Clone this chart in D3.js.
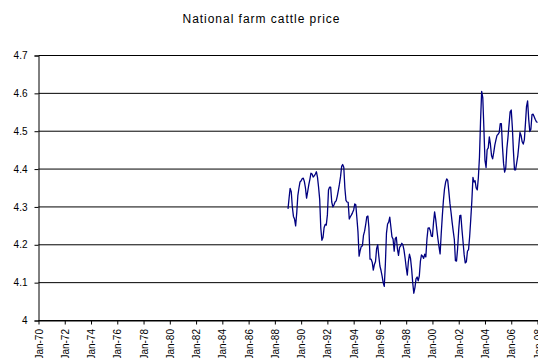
<!DOCTYPE html>
<html>
<head>
<meta charset="utf-8">
<script src="https://cdnjs.cloudflare.com/ajax/libs/d3/7.8.5/d3.min.js"></script>
<style>
  html, body { margin: 0; padding: 0; background: #fff; }
  svg { display: block; }
  text { font-family: "Liberation Sans", Arial, sans-serif; fill: #000; }
</style>
</head>
<body>
<svg id="chart" width="538" height="358"></svg>
<script>
// ---- data ----
const title = "National farm cattle price";
const startMonth = "1989-01";           // first monthly observation
const prices = [
  4.295, 4.325, 4.349, 4.340, 4.300, 4.275, 4.268, 4.250, 4.285, 4.330,
  4.350, 4.366, 4.369, 4.375, 4.376, 4.367, 4.350, 4.323, 4.340, 4.358,
  4.373, 4.389, 4.387, 4.379, 4.382, 4.387, 4.393, 4.378, 4.352, 4.320,
  4.245, 4.212, 4.219, 4.245, 4.254, 4.252, 4.279, 4.345, 4.352, 4.352,
  4.313, 4.300, 4.305, 4.313, 4.316, 4.328, 4.344, 4.360, 4.380, 4.407,
  4.412, 4.405, 4.350, 4.317, 4.313, 4.312, 4.268, 4.274, 4.279, 4.285,
  4.292, 4.308, 4.306, 4.270, 4.234, 4.170, 4.185, 4.196, 4.197, 4.225,
  4.236, 4.253, 4.274, 4.276, 4.245, 4.162, 4.162, 4.154, 4.133, 4.148,
  4.156, 4.190, 4.200, 4.170, 4.144, 4.132, 4.118, 4.100, 4.090, 4.150,
  4.230, 4.255, 4.260, 4.273, 4.247, 4.221, 4.215, 4.183, 4.216, 4.220,
  4.190, 4.172, 4.193, 4.197, 4.204, 4.200, 4.186, 4.165, 4.140, 4.120,
  4.154, 4.175, 4.164, 4.136, 4.100, 4.072, 4.087, 4.110, 4.115, 4.105,
  4.118, 4.157, 4.173, 4.170, 4.164, 4.175, 4.168, 4.215, 4.244, 4.245,
  4.238, 4.223, 4.222, 4.260, 4.287, 4.267, 4.241, 4.216, 4.195, 4.176,
  4.229, 4.275, 4.317, 4.347, 4.365, 4.374, 4.370, 4.341, 4.310, 4.286,
  4.260, 4.236, 4.214, 4.158, 4.157, 4.190, 4.240, 4.277, 4.278, 4.240,
  4.208, 4.174, 4.152, 4.155, 4.183, 4.187, 4.222, 4.266, 4.316, 4.378,
  4.366, 4.369, 4.350, 4.345, 4.377, 4.432, 4.530, 4.605, 4.589, 4.510,
  4.423, 4.404, 4.451, 4.456, 4.485, 4.465, 4.436, 4.427, 4.444, 4.463,
  4.477, 4.489, 4.492, 4.497, 4.520, 4.520, 4.460, 4.415, 4.392, 4.403,
  4.454, 4.483, 4.518, 4.551, 4.556, 4.509, 4.450, 4.398, 4.398, 4.416,
  4.434, 4.464, 4.497, 4.489, 4.472, 4.466, 4.478, 4.522, 4.565, 4.580,
  4.532, 4.499, 4.505, 4.544, 4.545, 4.538, 4.531, 4.525, 4.523
];
const yTicks = [4, 4.1, 4.2, 4.3, 4.4, 4.5, 4.6, 4.7];
const xTickYears = [1970,1972,1974,1976,1978,1980,1982,1984,1986,1988,
                    1990,1992,1994,1996,1998,2000,2002,2004,2006,2008];

// ---- layout ----
const svg = d3.select("#chart");
const W = 538, H = 358;
const mLeft = 38.5, mRight = 537.5, mTop = 55.5, mBottom = 320.5;

const parseMonth = d3.timeParse("%Y-%m");
const start = parseMonth(startMonth);
const series = prices.map((v, i) => ({ date: d3.timeMonth.offset(start, i), value: v }));

const x = d3.scaleTime()
  .domain([new Date(1970, 0, 1), new Date(2008, 0, 1)])
  .range([mLeft, mRight]);
const y = d3.scaleLinear().domain([4, 4.7]).range([mBottom, mTop]);

// title
svg.append("text")
  .attr("x", 261).attr("y", 23)
  .attr("text-anchor", "middle")
  .attr("font-size", 12)
  .attr("textLength", 157)
  .attr("lengthAdjust", "spacing")
  .text(title);

// gridlines
svg.append("g")
  .selectAll("line")
  .data(yTicks)
  .join("line")
  .attr("x1", mLeft).attr("x2", W + 5)
  .attr("y1", d => y(d)).attr("y2", d => y(d))
  .attr("stroke", "#000").attr("stroke-width", 1);

// y axis
const yAxis = d3.axisLeft(y)
  .tickValues(yTicks)
  .tickSize(4)
  .tickPadding(7)
  .tickFormat(d => d3.format("")(+d.toFixed(1)));
const gy = svg.append("g").attr("transform", `translate(${mLeft},0)`).call(yAxis);
gy.select(".domain").attr("stroke", "#000");
gy.selectAll(".tick line").attr("stroke", "#000");
gy.selectAll(".tick text").attr("font-size", 10).attr("font-family", "Liberation Sans, Arial, sans-serif");

// x axis
const xAxis = d3.axisBottom(x)
  .tickValues(xTickYears.map(yr => new Date(yr, 0, 1)))
  .tickSize(4)
  .tickSizeOuter(0)
  .tickFormat(d3.timeFormat("Jan-%y"));
const gx = svg.append("g").attr("transform", `translate(0,${mBottom})`).call(xAxis);
gx.select(".domain").attr("stroke", "#000").attr("d", `M${mLeft},0.5H${W + 5}`);
gx.selectAll(".tick line").attr("stroke", "#000");
gx.selectAll(".tick text")
  .attr("font-size", 10)
  .attr("font-family", "Liberation Sans, Arial, sans-serif")
  .attr("text-anchor", "end")
  .attr("transform", "rotate(-90)")
  .attr("x", -8.5)
  .attr("y", 0)
  .attr("dy", "0.35em");

// line
const line = d3.line().x(d => x(d.date)).y(d => y(d.value));
svg.append("path")
  .datum(series)
  .attr("fill", "none")
  .attr("stroke", "#000080")
  .attr("stroke-width", 1.3)
  .attr("stroke-linejoin", "round")
  .attr("d", line);
</script>
</body>
</html>
